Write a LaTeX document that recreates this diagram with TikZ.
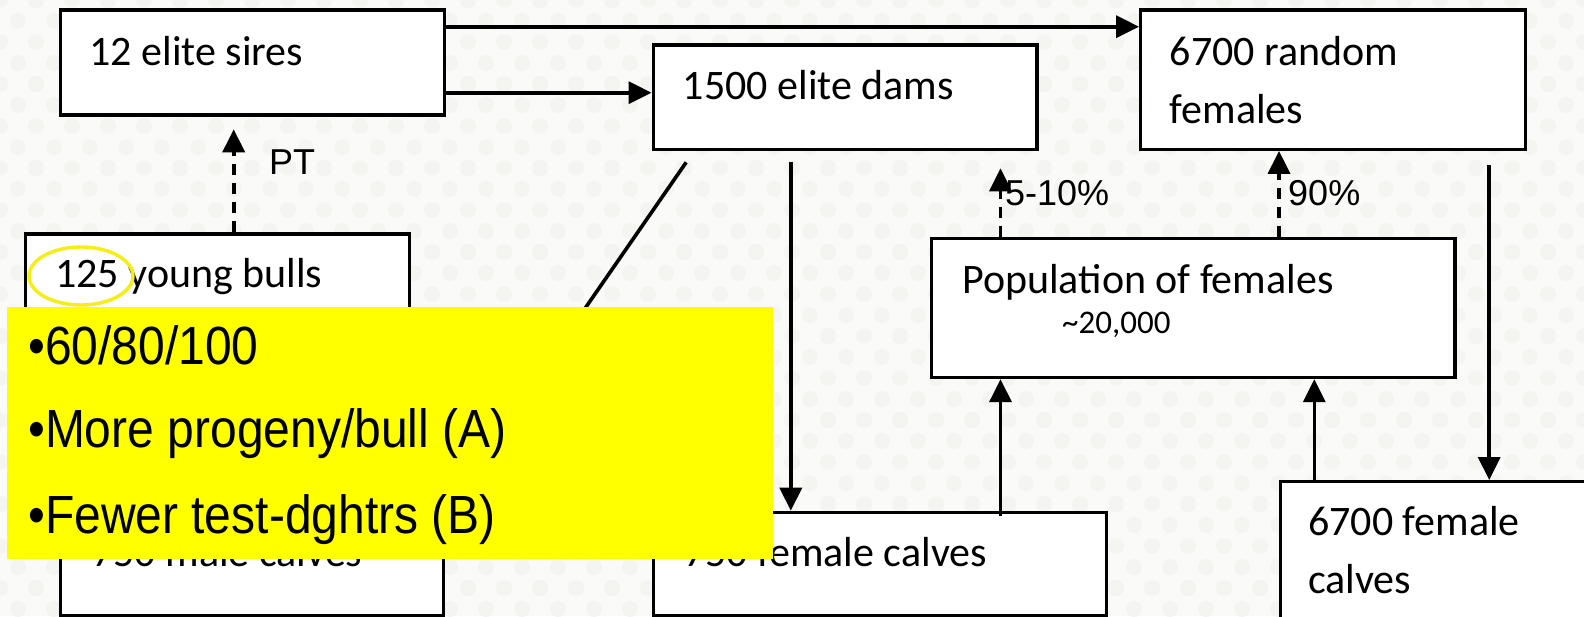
\documentclass[tikz,border=0pt]{standalone}
\usepackage{fontspec}
\setmainfont{Carlito}
\newfontfamily\arialfont{Liberation Sans}
\usetikzlibrary{arrows.meta,calc}

\definecolor{bgcol}{RGB}{250,250,248}
\definecolor{dotcol}{RGB}{244,244,241}
\definecolor{hilite}{RGB}{255,255,0}
\definecolor{ringcol}{RGB}{245,238,20}

\begin{document}
\begin{tikzpicture}[x=1pt,y=-1pt,
  box/.style={draw=black,line width=3.2pt,fill=white,inner sep=0pt,anchor=north west},
  lbl/.style={anchor=base west,inner sep=0pt,font=\fontsize{42}{50}\selectfont},
  small/.style={anchor=base west,inner sep=0pt,font=\fontsize{33}{40}\selectfont},
  tag/.style={anchor=base west,inner sep=0pt,font=\arialfont\fontsize{36}{43}\selectfont},
  bul/.style={anchor=base west,inner sep=0pt,font=\arialfont\fontsize{48}{56}\selectfont},
  arr/.style={line width=3.6pt,-{Triangle[length=23pt,width=22pt]}},
  dsh/.style={arr,dash pattern=on 11pt off 8pt},
  link/.style={line width=3.6pt}]

% page frame and faint dotted backdrop
\clip (0,0) rectangle (1584,616);
\fill[bgcol] (0,0) rectangle (1584,616);
\foreach \r in {0,...,30}{
  \foreach \c in {0,...,44}{
    \fill[dotcol] ({\c*36+mod(\r,2)*18},{\r*21}) circle (8);
  }
}

% boxes
\node[box,minimum width=383.7pt,minimum height=105pt]   (sires) at (59.2,8.3) {};
\node[box,minimum width=383.9pt,minimum height=104.7pt] (dams)  at (651.5,43.3) {};
\node[box,minimum width=384.6pt,minimum height=139.4pt] (randf) at (1139,8.3) {};
\node[box,minimum width=384pt,minimum height=103pt]     (bulls) at (24,232.3) {};
\node[box,minimum width=523.1pt,minimum height=139.3pt] (pop)   at (930.2,236.7) {};
\node[box,minimum width=382.6pt,minimum height=103.5pt] (malec) at (59.2,510.7) {};
\node[box,minimum width=453.1pt,minimum height=103.5pt] (femc)  at (651.5,510.7) {};
\node[box,minimum width=400pt,minimum height=200pt]     (fcal)  at (1279,480) {};

% box texts
\node[lbl] (tsires) at (89.3,65)   {12 elite sires};
\node[lbl] (tdams)  at (682.6,99.3) {1500 elite dams};
\node[lbl] (trand1) at (1169.7,65)  {6700 random};
\node[lbl] (trand2) at (1169.7,123.3) {females};
\node[lbl] (tbulls) at (55,287)    {125 young bulls};
\node[lbl] (tpop)   at (962,293.3) {Population of females};
\node[small] (tpopn) at (1062,333.3) {\textasciitilde 20,000};
\node[lbl] (tmalec) at (92,566.7)  {750 male calves};
\node[lbl] (tfemc)  at (684,566.7) {750 female calves};
\node[lbl] (tfcal1) at (1308,535)  {6700 female};
\node[lbl] (tfcal2) at (1308,593.3) {calves};

% free ends of connectors
\coordinate (pttip)   at (233.7,129.3);
\coordinate (damsA)   at (686.2,162.3);
\coordinate (damsB)   at (790.8,162.3);
\coordinate (poptip)  at (1000.5,168.3);
\coordinate (randB)   at (1489.2,165);
\coordinate (femcup)  at (1000.5,516);

% connectors
\draw[arr] (sires.east |- 0,26.7) -- (randf.west |- 0,26.7);
\draw[arr] (sires.east |- 0,92.7) -- (dams.west |- 0,92.7);
\draw[dsh] (bulls.north -| pttip) -- (pttip);
\draw[link] (damsA) -- (malec.north east);
\draw[arr] (damsB) -- (femc.north -| damsB);
\draw[dsh] (pop.north -| poptip) -- (poptip);
\draw[dsh] (pop.north -| 1279,0) -- (randf.south -| 1279,0);
\draw[arr] (randB) -- (fcal.north -| randB);
\draw[arr] (femcup) -- (pop.south -| femcup);
\draw[arr] (fcal.north -| 1314.3,0) -- (pop.south -| 1314.3,0);

% connector labels
\node[tag] (tpt)  at (269,174)  {PT};
\node[tag] (tlow) at (1005,205) {5-10\%};
\node[tag] (thi)  at (1288,205) {90\%};

% highlight ring around the count of young bulls
\draw[ringcol,line width=3.4pt] (81,276) ellipse (52 and 29);

% yellow note
\fill[hilite] (7.1,307.3) rectangle (773,559.3);
\node[bul] (b1) at (28,364) {\scalebox{1}[1.12]{•60/80/100}};
\node[bul] (b2) at (28,447) {\scalebox{1}[1.12]{•More progeny/bull (A)}};
\node[bul] (b3) at (28,533) {\scalebox{1}[1.12]{•Fewer test-dghtrs (B)}};
\end{tikzpicture}
\end{document}
